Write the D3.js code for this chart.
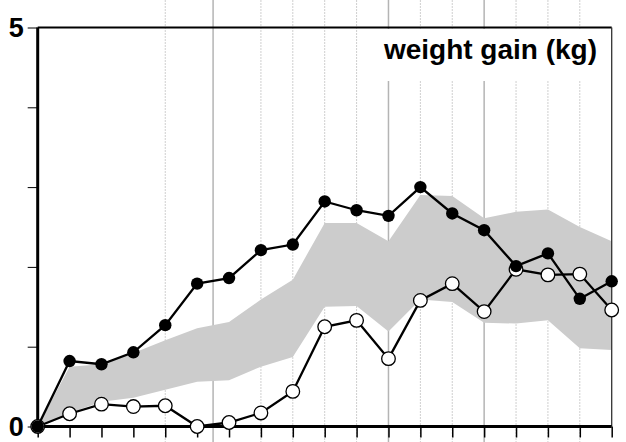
<!DOCTYPE html>
<meta charset="utf-8">
<script src="https://d3js.org/d3.v7.min.js"></script>
<title>weight gain</title>
<style>
  body { margin: 0; background: #fff; }
  svg text { font-family: "Liberation Sans", Arial, sans-serif; font-weight: bold; }
</style>
<body>
<script>
  // x positions are visit indices, y values in kg
  var visits = [0, 1, 2, 3, 4, 5, 6, 7, 8, 9, 10, 11, 12, 13, 14, 15, 16, 17, 18];
  var filledGain = [0, 0.82, 0.78, 0.93, 1.27, 1.79, 1.86, 2.21, 2.28, 2.82, 2.71, 2.64, 3.0, 2.67, 2.46, 2.01, 2.17, 1.6, 1.82];
  var openGain = [0, 0.16, 0.28, 0.25, 0.26, 0.0, 0.05, 0.17, 0.44, 1.25, 1.33, 0.85, 1.58, 1.79, 1.44, 1.97, 1.90, 1.91, 1.46];
  var bandHigh = [0, 0.75, 0.78, 0.92, 1.08, 1.23, 1.31, 1.59, 1.84, 2.55, 2.55, 2.32, 2.90, 2.89, 2.61, 2.69, 2.72, 2.50, 2.32];
  var bandLow = [0, 0.17, 0.31, 0.36, 0.46, 0.56, 0.58, 0.75, 0.87, 1.50, 1.51, 1.19, 1.59, 1.56, 1.30, 1.29, 1.33, 0.98, 0.96];
  var gridAt = [4, 5.5, 7, 8, 9, 10, 11, 12, 13, 14, 15, 16, 17];
  var gridSolid = [5.5, 11, 14];
  var yTicks = [0, 1, 2, 3, 4, 5];
  var yLabels = ["0", "", "", "", "", "5"];
  var title = "weight gain (kg)";

  var W = 626, H = 442;
  var x = d3.scaleLinear().domain([0, 18]).range([37.7, 611.7]);
  var y = d3.scaleLinear().domain([0, 5]).range([426.5, 27.5]);

  var svg = d3.select("body").append("svg")
      .attr("width", W)
      .attr("height", H);

  // grid lines run the full height of the picture
  svg.append("g").selectAll("line")
      .data(gridAt)
    .enter().append("line")
      .attr("x1", function(d){ return x(d); })
      .attr("x2", function(d){ return x(d); })
      .attr("y1", 0)
      .attr("y2", H)
      .attr("stroke", function(d){ return gridSolid.indexOf(d) >= 0 ? "#b4b4b4" : "#cfcfcf"; })
      .attr("stroke-width", function(d){ return gridSolid.indexOf(d) >= 0 ? 1.5 : 1; })
      .attr("stroke-dasharray", function(d){ return gridSolid.indexOf(d) >= 0 ? null : "2,1"; });

  // grey range band
  var area = d3.area()
      .x(function(d, i){ return x(visits[i]); })
      .y0(function(d, i){ return y(bandLow[i]); })
      .y1(function(d, i){ return y(bandHigh[i]); });
  svg.append("path")
      .attr("d", area(visits))
      .attr("fill", "#cccccc");

  // frame: top and right
  svg.append("line")
      .attr("x1", x(0)).attr("x2", x(18))
      .attr("y1", y(5)).attr("y2", y(5))
      .attr("stroke", "#000").attr("stroke-width", 2);
  svg.append("line")
      .attr("x1", x(18)).attr("x2", x(18))
      .attr("y1", y(5)).attr("y2", y(0))
      .attr("stroke", "#333").attr("stroke-width", 1.3);

  // title with white box
  svg.append("rect")
      .attr("x", 381).attr("y", y(5) + 1.5)
      .attr("width", x(18) - 381 - 1).attr("height", 52)
      .attr("fill", "#fff");
  svg.append("text")
      .attr("x", 597).attr("y", 59)
      .attr("text-anchor", "end")
      .attr("font-size", 28)
      .style("font-size", "28px")
      .text(title);

  // axes
  var xAxis = d3.axisBottom(x).tickValues(visits).tickSize(11).tickFormat("");
  var gx = svg.append("g")
      .attr("transform", "translate(0," + y(0) + ")")
      .call(xAxis);
  gx.select(".domain").attr("stroke-width", 3).attr("d", "M" + x(0) + ",0H" + x(18));
  gx.selectAll(".tick line").attr("stroke-width", 1.5);

  var yAxis = d3.axisLeft(y).tickValues(yTicks).tickSize(10).tickPadding(4)
      .tickFormat(function(d, i){ return yLabels[i]; });
  var gy = svg.append("g")
      .attr("transform", "translate(" + x(0) + ",0)")
      .attr("font-size", 27)
      .attr("font-family", "'Liberation Sans', Arial, sans-serif")
      .call(yAxis);
  gy.select(".domain").attr("stroke-width", 3).attr("d", "M0," + y(5) + "V" + y(0));
  gy.selectAll(".tick line").attr("stroke-width", 1);
  gy.selectAll(".tick text")
      .attr("font-size", 27)
      .style("font-size", "27px")
      .style("font-weight", "bold")
      .attr("fill", "#000");

  var line = d3.line()
      .x(function(d, i){ return x(visits[i]); })
      .y(function(d){ return y(d); });

  // open circles series
  svg.append("path")
      .attr("d", line(openGain))
      .attr("fill", "none")
      .attr("stroke", "#000")
      .attr("stroke-width", 2.3);
  svg.append("g").selectAll("circle")
      .data(openGain)
    .enter().append("circle")
      .attr("cx", function(d, i){ return x(visits[i]); })
      .attr("cy", function(d){ return y(d); })
      .attr("r", 6.8)
      .attr("fill", "#fff")
      .attr("stroke", "#000")
      .attr("stroke-width", 1.3);

  // filled dots series
  svg.append("path")
      .attr("d", line(filledGain))
      .attr("fill", "none")
      .attr("stroke", "#000")
      .attr("stroke-width", 2.3);
  svg.append("g").selectAll("circle")
      .data(filledGain)
    .enter().append("circle")
      .attr("cx", function(d, i){ return x(visits[i]); })
      .attr("cy", function(d){ return y(d); })
      .attr("r", 6.2)
      .attr("fill", "#000");
</script>
</body>
